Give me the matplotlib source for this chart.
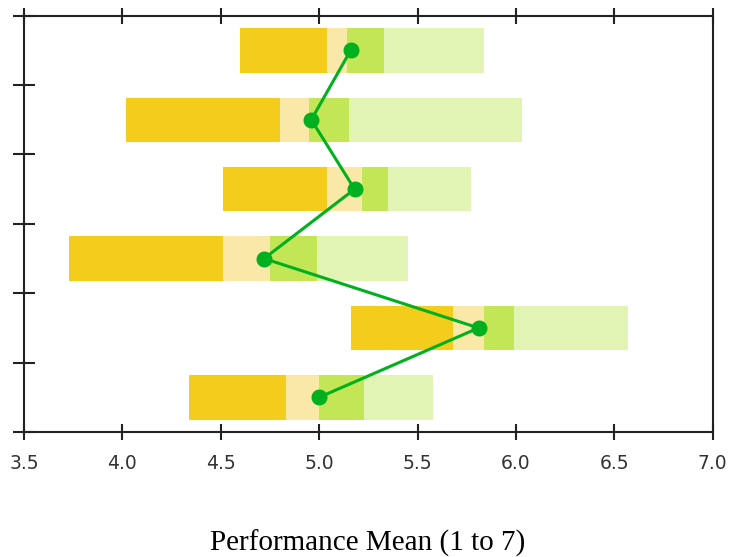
import numpy as np
import matplotlib.pyplot as plt

# segment edges for each row, top row first
seg_start = [4.60, 4.02, 4.51, 3.73, 5.16, 4.34]
seg_b1 = [5.04, 4.80, 5.04, 4.51, 5.68, 4.83]
seg_b2 = [5.14, 4.95, 5.22, 4.75, 5.84, 5.00]
seg_b3 = [5.33, 5.15, 5.35, 4.99, 5.99, 5.23]
seg_end = [5.84, 6.03, 5.77, 5.45, 6.57, 5.58]
means = [5.16, 4.96, 5.18, 4.72, 5.81, 5.00]

xticks = [3.5, 4.0, 4.5, 5.0, 5.5, 6.0, 6.5, 7.0]
seg_colors = ['#f4cc1c', '#f9e8a8', '#c2e656', '#e2f4b4']

fig = plt.figure(figsize=(7.3, 5.57), dpi=100)
ax = fig.add_axes([24 / 730, 1 - 432 / 557, 688.7 / 730, 416.3 / 557])

n = len(seg_start)
ypos = np.arange(n)[::-1] + 0.5
edges = np.array([seg_start, seg_b1, seg_b2, seg_b3, seg_end])
for k in range(4):
    ax.barh(ypos, edges[k + 1] - edges[k], left=edges[k], height=0.64,
            color=seg_colors[k], edgecolor='none', zorder=2)

ax.plot(means, ypos, color='#00b01e', lw=2.2, marker='o', ms=10.5,
        markeredgecolor='#00b01e', zorder=3)

ax.set_xlim(3.5, 7.0)
ax.set_ylim(0, 6)
ax.set_xticks(xticks)
ax.set_xticklabels(['%.1f' % v for v in xticks])
ax.set_yticks(range(0, 7))
ax.set_yticklabels([])

for s in ax.spines.values():
    s.set_linewidth(1.5)
    s.set_color('#222222')

ax.tick_params(axis='x', which='both', direction='inout', length=12, width=1.5,
               top=True, bottom=True, labeltop=False, color='#222222',
               labelsize=13.5, labelcolor='#333333', pad=10)
ax.tick_params(axis='y', direction='inout', length=16, width=1.5,
               left=True, right=False, color='#222222')
for lbl in ax.get_xticklabels():
    lbl.set_fontfamily('DejaVu Sans')

fig.text(367.5 / 730, 1 - 543 / 557, 'Performance Mean (1 to 7)',
         ha='center', va='center', fontsize=21, family='Liberation Serif')

fig.savefig('out.png', dpi=100)
